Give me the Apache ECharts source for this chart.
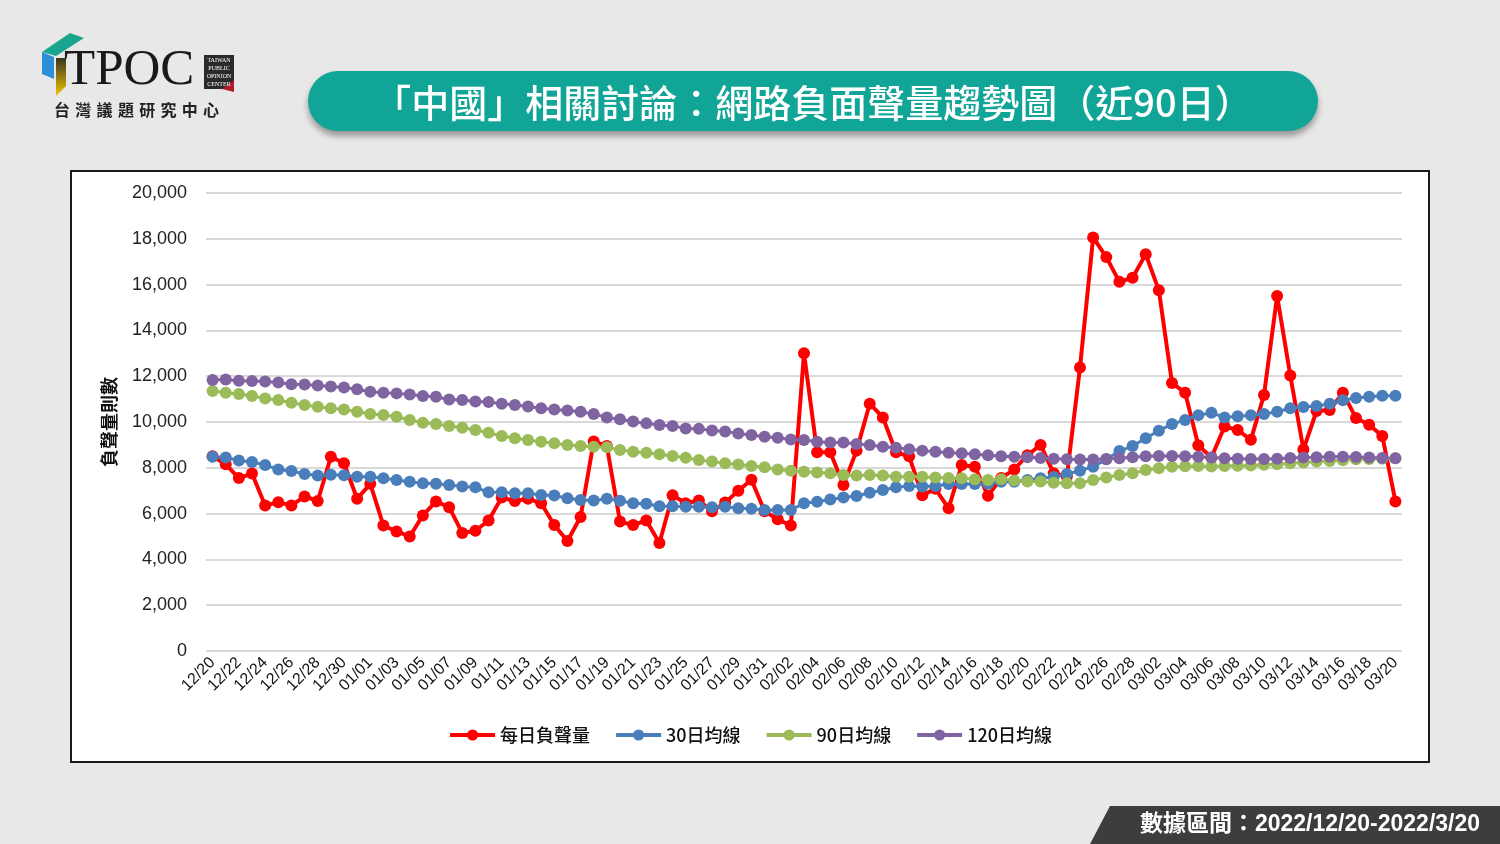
<!DOCTYPE html>
<html>
<head>
<meta charset="utf-8">
<title>「中國」相關討論：網路負面聲量趨勢圖</title>
<script src="https://cdn.jsdelivr.net/npm/echarts@6/dist/echarts.min.js"></script>
<style>
  html, body { margin: 0; padding: 0; background: #e8e8e8; }
  #main { width: 1500px; height: 844px; }
</style>
</head>
<body>
<div id="main"></div>
<script>
// 日期 12/20 ~ 03/20
const dates = [
  '12/20','12/21','12/22','12/23','12/24','12/25','12/26','12/27','12/28','12/29','12/30','12/31',
  '01/01','01/02','01/03','01/04','01/05','01/06','01/07','01/08','01/09','01/10','01/11','01/12','01/13','01/14','01/15','01/16','01/17','01/18','01/19','01/20','01/21','01/22','01/23','01/24','01/25','01/26','01/27','01/28','01/29','01/30','01/31',
  '02/01','02/02','02/03','02/04','02/05','02/06','02/07','02/08','02/09','02/10','02/11','02/12','02/13','02/14','02/15','02/16','02/17','02/18','02/19','02/20','02/21','02/22','02/23','02/24','02/25','02/26','02/27','02/28',
  '03/01','03/02','03/03','03/04','03/05','03/06','03/07','03/08','03/09','03/10','03/11','03/12','03/13','03/14','03/15','03/16','03/17','03/18','03/19','03/20'
];

const daily = [
  8500, 8150, 7550, 7750, 6350, 6500, 6350, 6750, 6550, 8480,
  8200, 6650, 7300, 5480, 5220, 5000, 5920, 6530, 6280, 5150,
  5250, 5700, 6700, 6550, 6650, 6450, 5500, 4800, 5850, 9150,
  8950, 5650, 5500, 5700, 4720, 6800, 6450, 6570, 6100, 6480,
  7000, 7480, 6100, 5750, 5480, 13000, 8680, 8680, 7250, 8750,
  10800, 10200, 8680, 8500, 6800, 7080, 6230, 8120, 8050, 6780,
  7550, 7930, 8550, 9000, 7760, 7620, 12380, 18060, 17200, 16120,
  16300, 17330, 15750, 11700, 11280, 8980, 8450, 9800, 9650, 9220,
  11180, 15500, 12030, 8800, 10480, 10520, 11280, 10170, 9880, 9390, 6530
];

const ma30 = [
  8480, 8450, 8320, 8250, 8120, 7930, 7860, 7730, 7660, 7700,
  7670, 7610, 7610, 7540, 7470, 7390, 7320, 7300, 7250, 7180,
  7150, 6930, 6930, 6890, 6890, 6810, 6790, 6670, 6590, 6570,
  6650, 6560, 6450, 6430, 6320, 6320, 6300, 6300, 6280, 6300,
  6230, 6210, 6160, 6160, 6160, 6450, 6520, 6620, 6700, 6770,
  6910, 7030, 7150, 7200, 7180, 7200, 7290, 7290, 7290, 7300,
  7390, 7390, 7470, 7540, 7600, 7730, 7870, 8050, 8370, 8730,
  8950, 9290, 9620, 9910, 10090, 10300, 10400, 10200, 10250, 10300,
  10350, 10450, 10600, 10650, 10700, 10800, 10950, 11050, 11100, 11150, 11150
];

const ma90 = [
  11350, 11280, 11220, 11140, 11030, 10960, 10840, 10740, 10670, 10600,
  10550, 10450, 10350, 10310, 10230, 10090, 9970, 9910, 9830, 9750,
  9650, 9530, 9390, 9290, 9210, 9140, 9070, 9000, 8950, 8920,
  8900, 8780, 8700, 8660, 8590, 8520, 8440, 8340, 8270, 8200,
  8140, 8080, 8020, 7930, 7870, 7830, 7790, 7760, 7690, 7660,
  7690, 7660, 7610, 7610, 7610, 7580, 7560, 7540, 7500, 7470,
  7500, 7450, 7400, 7400, 7350, 7330, 7330, 7470, 7580, 7690,
  7760, 7900, 7980, 8050, 8070, 8080, 8060, 8080, 8090, 8100,
  8130, 8150, 8200, 8230, 8270, 8300, 8330, 8370, 8380, 8400, 8420
];

const ma120 = [
  11830, 11860, 11800, 11790, 11770, 11720, 11650, 11640, 11590, 11550,
  11510, 11430, 11320, 11280, 11250, 11200, 11140, 11100, 10980, 10960,
  10900, 10870, 10800, 10740, 10680, 10600, 10550, 10500, 10450, 10350,
  10200, 10120, 10020, 9940, 9870, 9830, 9720, 9700, 9630, 9590,
  9500, 9430, 9360, 9310, 9240, 9210, 9140, 9100, 9100, 9040,
  9000, 8920, 8880, 8810, 8750, 8700, 8660, 8640, 8590, 8550,
  8500, 8480, 8460, 8430, 8400, 8370, 8360, 8360, 8380, 8420,
  8460, 8500, 8520, 8520, 8500, 8480, 8450, 8420, 8400, 8380,
  8380, 8400, 8430, 8450, 8460, 8480, 8480, 8470, 8450, 8430, 8420
];

const seriesNames = ['每日負聲量', '30日均線', '90日均線', '120日均線'];
const seriesColors = ['#ff0000', '#4a7ebb', '#9bbb59', '#8064a2'];

const titleText = '「中國」相關討論：網路負面聲量趨勢圖（近90日）';
const rangeText = '數據區間：2022/12/20-2022/3/20';
const logoSub = '台灣議題研究中心';

const fontAll = "'Liberation Sans', 'Noto Sans CJK TC', sans-serif";
const fontCJK = "'Noto Sans CJK TC', sans-serif";

let chart = echarts.init(document.getElementById('main'));

// logo 下方中文字，一字一格
let logoChars = logoSub.split('').map((c, i) => ({
  type: 'text',
  left: 54 + i * 21.3,
  top: 102,
  style: { text: c, fill: '#222', font: 'bold 16px ' + fontCJK }
}));

let graphics = [
  // 圖表白底框
  {
    type: 'rect', z: -10,
    shape: { x: 71, y: 171, width: 1358, height: 591 },
    style: { fill: '#ffffff', stroke: '#1a1a1a', lineWidth: 2 }
  },
  // 標題
  {
    type: 'rect',
    shape: { x: 308, y: 71, width: 1010, height: 60, r: 30 },
    style: { fill: '#10a596', shadowBlur: 6, shadowOffsetY: 5, shadowColor: 'rgba(0,0,0,0.35)' }
  },
  {
    type: 'text', x: 813, y: 103,
    style: { text: titleText, fill: '#ffffff', font: '500 38px ' + fontCJK, textAlign: 'center', textVerticalAlign: 'middle' }
  },
  // logo
  {
    type: 'polygon',
    shape: { points: [[42, 52], [70, 33], [84, 38], [56, 56]] },
    style: { fill: '#1aa58e' }
  },
  {
    type: 'polygon',
    shape: { points: [[42, 52], [54, 57], [54, 79], [42, 74]] },
    style: { fill: '#2f8fd6' }
  },
  {
    type: 'polygon',
    shape: { points: [[56, 58], [66, 58], [66, 86], [56, 96]] },
    style: {
      fill: new echarts.graphic.LinearGradient(0, 0, 0, 1, [
        { offset: 0, color: '#3a3320' }, { offset: 1, color: '#f2c500' }
      ])
    }
  },
  {
    type: 'text', left: 64, top: 45,
    style: { text: 'TPOC', fill: '#1a1a1a', font: '51px "Liberation Serif", "DejaVu Serif", serif' }
  },
  {
    type: 'rect',
    shape: { x: 204, y: 55, width: 30, height: 34 },
    style: { fill: '#2a2a2a' }
  },
  {
    type: 'polygon',
    shape: { points: [[222, 89], [234, 80], [234, 92]] },
    style: { fill: '#b01c2a' }
  },
  {
    type: 'text', x: 219, y: 72,
    style: {
      text: 'TAIWAN\nPUBLIC\nOPINION\nCENTER', fill: '#ffffff',
      font: '6px "Liberation Serif", serif', lineHeight: 8, textAlign: 'center', textVerticalAlign: 'middle'
    }
  },
  // 數據區間標籤
  {
    type: 'polygon',
    shape: { points: [[1090, 844], [1110, 806], [1500, 806], [1500, 844]] },
    style: { fill: '#3d3d3d' }
  },
  {
    type: 'text', x: 1310, y: 825,
    style: { text: rangeText, fill: '#ffffff', font: 'bold 23px ' + fontAll, textAlign: 'center', textVerticalAlign: 'middle' }
  }
].concat(logoChars);

let series = [daily, ma30, ma90, ma120].map((d, i) => ({
  name: seriesNames[i],
  type: 'line',
  data: d,
  symbol: 'circle',
  symbolSize: 12,
  showSymbol: true,
  showAllSymbol: true,
  animation: false,
  lineStyle: { width: i === 0 ? 4 : 3, color: seriesColors[i] },
  itemStyle: { color: seriesColors[i] }
}));

let option = {
  backgroundColor: '#e8e8e8',
  animation: false,
  textStyle: { fontFamily: fontAll },
  graphic: graphics,
  grid: { left: 206, right: 98, top: 193, bottom: 193 },
  legend: {
    data: seriesNames,
    left: 'center',
    top: 721,
    itemWidth: 45,
    itemHeight: 14,
    itemGap: 24,
    lineStyle: { width: 4 },
    textStyle: { fontSize: 18, fontWeight: 500, color: '#111', fontFamily: fontCJK }
  },
  xAxis: {
    type: 'category',
    data: dates,
    boundaryGap: true,
    axisLine: { show: false },
    axisTick: { show: false },
    axisLabel: { interval: 1, rotate: 45, fontSize: 16, color: '#111', margin: 9 }
  },
  yAxis: {
    type: 'value',
    min: 0,
    max: 20000,
    interval: 2000,
    name: '負聲量則數',
    nameLocation: 'middle',
    nameRotate: 90,
    nameGap: 88,
    nameTextStyle: { fontSize: 18, fontWeight: 'bold', color: '#111', fontFamily: fontCJK },
    axisLine: { show: false },
    axisTick: { show: false },
    axisLabel: {
      fontSize: 18, color: '#222', margin: 19,
      formatter: v => v.toLocaleString('en-US')
    },
    splitLine: { lineStyle: { color: '#d9d9d9', width: 2 } }
  },
  series: series
};

chart.setOption(option);
</script>
</body>
</html>
